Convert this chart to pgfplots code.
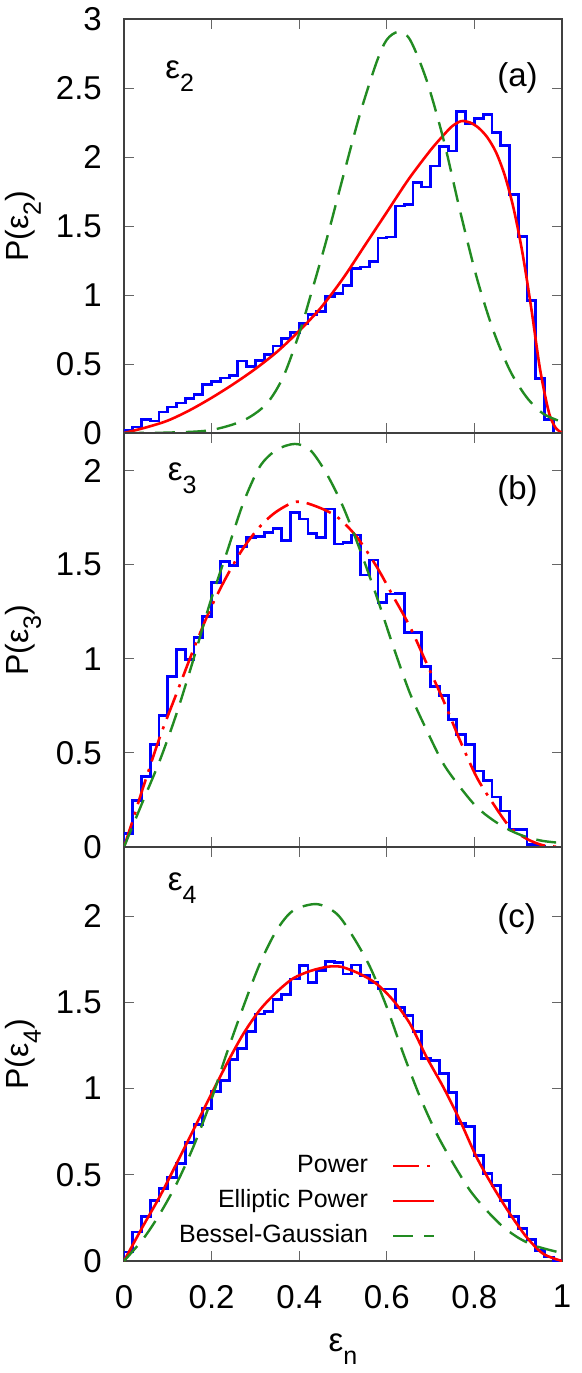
\documentclass[border=0pt]{standalone}
\usepackage{fontspec}
\setmainfont{Liberation Sans}
\usepackage{pgfplots}
\pgfplotsset{compat=1.18}
\usepackage{pgfplotstable}

\definecolor{hblue}{RGB}{0,0,255}
\definecolor{cred}{RGB}{255,0,0}
\definecolor{cgreen}{RGB}{34,139,34}

\pgfplotstableread{
x y
0.00 0.000
0.00 0.020
0.02 0.043
0.04 0.097
0.06 0.087
0.08 0.152
0.10 0.188
0.12 0.217
0.14 0.249
0.16 0.278
0.18 0.350
0.20 0.374
0.22 0.399
0.24 0.418
0.26 0.522
0.28 0.483
0.30 0.527
0.32 0.568
0.34 0.630
0.36 0.684
0.38 0.727
0.40 0.792
0.42 0.857
0.44 0.882
0.46 0.990
0.48 1.010
0.50 1.070
0.52 1.191
0.54 1.203
0.56 1.244
0.58 1.413
0.60 1.420
0.62 1.645
0.64 1.657
0.66 1.814
0.68 1.783
0.70 1.935
0.72 2.077
0.74 2.043
0.76 2.331
0.78 2.242
0.80 2.278
0.82 2.307
0.84 2.176
0.86 2.085
0.88 1.727
0.90 1.425
0.92 0.961
0.94 0.394
0.96 0.097
0.98 0.000
1.00 0.000
}\histA

\pgfplotstableread{
x y
0.00 0.000
0.00 0.071
0.02 0.248
0.04 0.376
0.06 0.546
0.08 0.700
0.10 0.904
0.12 1.051
0.14 0.998
0.16 1.113
0.18 1.223
0.20 1.406
0.22 1.516
0.24 1.495
0.26 1.596
0.28 1.645
0.30 1.652
0.32 1.672
0.34 1.693
0.36 1.628
0.38 1.777
0.40 1.743
0.42 1.667
0.44 1.645
0.46 1.796
0.48 1.610
0.50 1.619
0.52 1.658
0.54 1.445
0.56 1.525
0.58 1.300
0.60 1.344
0.62 1.348
0.64 1.138
0.66 1.138
0.68 0.961
0.70 0.851
0.72 0.807
0.74 0.679
0.76 0.599
0.78 0.546
0.80 0.404
0.82 0.355
0.84 0.266
0.86 0.191
0.88 0.092
0.90 0.092
0.92 0.014
0.94 0.004
0.96 0.000
0.98 0.000
1.00 0.000
}\histB

\pgfplotstableread{
x y
0.00 0.000
0.00 0.052
0.02 0.168
0.04 0.259
0.06 0.351
0.08 0.419
0.10 0.486
0.12 0.564
0.14 0.689
0.16 0.790
0.18 0.886
0.20 0.985
0.22 1.046
0.24 1.166
0.26 1.230
0.28 1.330
0.30 1.432
0.32 1.448
0.34 1.514
0.36 1.544
0.38 1.635
0.40 1.712
0.42 1.616
0.44 1.683
0.46 1.737
0.48 1.732
0.50 1.664
0.52 1.716
0.54 1.654
0.56 1.616
0.58 1.577
0.60 1.577
0.62 1.471
0.64 1.423
0.66 1.330
0.68 1.172
0.70 1.162
0.72 1.085
0.74 0.979
0.76 0.795
0.78 0.780
0.80 0.612
0.82 0.506
0.84 0.438
0.86 0.351
0.88 0.259
0.90 0.187
0.92 0.124
0.94 0.062
0.96 0.023
0.98 0.004
1.00 0.004
}\histC

\newcommand{\lab}{\fontsize{33}{40}\selectfont}
\newcommand{\sub}[1]{\raisebox{-0.4em}{\fontsize{25}{30}\selectfont #1}}

\pgfplotsset{
  panel/.style={
    width=438pt, height=414pt, scale only axis,
    xmin=0, xmax=1, ymin=0,
    xtick={0,0.2,0.4,0.6,0.8,1},
    tick align=inside, major tick length=10pt,
    axis line style={draw=black!75, line width=1.2pt},
    tick style={draw=black!60, line width=1pt},
    ticklabel style={font=\fontsize{33}{40}\selectfont},
    /pgf/number format/assume math mode=true,
    yticklabel style={inner sep=0pt, xshift=-22pt},
    xticklabel style={inner sep=0pt, yshift=-24pt},
    ylabel style={at={(axis description cs:-0.2306,0.5)}, anchor=center, font=\fontsize{32}{38}\selectfont},
    clip=true,
  },
  hist/.style={hblue, line width=2.8pt, const plot, no marks, line join=miter},
  ell/.style={cred, line width=2.6pt, no marks, smooth},
  pow/.style={cred, line width=2.6pt, no marks, dash pattern=on 26pt off 8pt on 3pt off 8pt},
  bg/.style={cgreen, line width=2.4pt, no marks, smooth, dash pattern=on 20pt off 11pt},
}

\begin{document}
\begin{tikzpicture}
% ---------------- panel (a)
\begin{axis}[panel, at={(0pt,0pt)}, anchor=north west,
  ymax=3, ytick={0,0.5,1,1.5,2,2.5,3}, xticklabels={},
  ylabel={P(ε\sub{2})}]
\addplot[hist] table {\histA};
\addplot[ell] coordinates {(0,0) (0.05,0.04) (0.1,0.09) (0.15,0.165) (0.2,0.255) (0.25,0.355) (0.3,0.465) (0.35,0.59) (0.4,0.74) (0.45,0.91) (0.5,1.12) (0.55,1.36) (0.6,1.6) (0.65,1.84) (0.7,2.05) (0.73,2.16) (0.75,2.225) (0.77,2.26) (0.79,2.25) (0.81,2.21) (0.83,2.14) (0.85,2.03) (0.87,1.86) (0.89,1.62) (0.91,1.3) (0.93,0.9) (0.95,0.46) (0.97,0.15) (0.985,0.04) (1.0,0)};
\addplot[bg] coordinates {(0,0) (0.1,0.003) (0.196,0.02) (0.272,0.09) (0.325,0.21) (0.364,0.41) (0.402,0.74) (0.425,0.985) (0.462,1.396) (0.5,1.855) (0.539,2.314) (0.577,2.69) (0.6,2.85) (0.626,2.906) (0.653,2.85) (0.691,2.555) (0.73,2.12) (0.767,1.613) (0.805,1.13) (0.843,0.744) (0.881,0.454) (0.919,0.26) (0.957,0.14) (1.0,0.08)};
\node[anchor=base west, inner sep=0pt, font=\lab] at (axis cs:0.094,2.572) {ε\sub{2}};
\node[anchor=base west, inner sep=0pt, font=\lab] at (axis cs:0.852,2.514) {(a)};
\end{axis}
% ---------------- panel (b)
\begin{axis}[panel, at={(0pt,-414pt)}, anchor=north west,
  ymax=2.2, ytick={0,0.5,1,1.5,2}, xticklabels={},
  ylabel={P(ε\sub{3})}]
\addplot[hist] table {\histB};
\addplot[pow, smooth] coordinates {(0,0) (0.02,0.142) (0.044,0.319) (0.082,0.585) (0.12,0.816) (0.158,1.046) (0.196,1.259) (0.234,1.436) (0.272,1.587) (0.31,1.702) (0.348,1.782) (0.394,1.835) (0.44,1.809) (0.486,1.755) (0.531,1.649) (0.577,1.489) (0.615,1.33) (0.653,1.17) (0.691,0.975) (0.729,0.78) (0.767,0.567) (0.805,0.372) (0.843,0.23) (0.881,0.106) (0.919,0.044) (0.957,0.009) (1.0,0)};
\addplot[bg] coordinates {(0,0) (0.044,0.248) (0.082,0.461) (0.12,0.709) (0.158,0.993) (0.196,1.294) (0.234,1.56) (0.272,1.826) (0.31,2.021) (0.348,2.11) (0.39,2.142) (0.425,2.11) (0.462,1.986) (0.5,1.809) (0.539,1.578) (0.577,1.33) (0.615,1.064) (0.653,0.816) (0.691,0.621) (0.729,0.443) (0.767,0.319) (0.805,0.213) (0.843,0.142) (0.881,0.089) (0.919,0.053) (0.957,0.032) (1.0,0.021)};
\node[anchor=base west, inner sep=0pt, font=\lab] at (axis cs:0.1,1.95) {ε\sub{3}};
\node[anchor=base west, inner sep=0pt, font=\lab] at (axis cs:0.852,1.844) {(b)};
\end{axis}
% ---------------- panel (c)
\begin{axis}[panel, at={(0pt,-828pt)}, anchor=north west,
  ymax=2.4, ytick={0,0.5,1,1.5,2},
  ylabel={P(ε\sub{4})},
  xlabel={ε\sub{n}},
  xlabel style={at={(axis description cs:0.5,0)}, anchor=base, yshift=-90pt, font=\lab},
  legend plot pos=right,
  legend cell align=right,
  legend image code/.code={\draw[#1] (0pt,0pt) -- (41pt,0pt);},
  legend style={at={(0.712,0.272)}, anchor=north east, draw=none, fill=none,
    inner sep=0pt, font=\fontsize{25}{30}\selectfont,
    nodes={text height=20pt, text depth=7pt, inner sep=4pt},
    /tikz/every odd column/.style={column sep=20pt}},
]
\addplot[hist, forget plot] table {\histC};
\addlegendimage{pow}
\addlegendentry{Power}
\addplot[ell] coordinates {(0,0) (0.044,0.205) (0.082,0.375) (0.12,0.565) (0.158,0.757) (0.196,0.95) (0.234,1.14) (0.272,1.315) (0.31,1.455) (0.348,1.558) (0.386,1.638) (0.425,1.681) (0.462,1.705) (0.481,1.708) (0.5,1.703) (0.539,1.664) (0.577,1.606) (0.615,1.51) (0.653,1.375) (0.691,1.181) (0.729,1.008) (0.767,0.815) (0.805,0.602) (0.843,0.429) (0.881,0.274) (0.919,0.139) (0.957,0.042) (1.0,0)};
\addlegendentry{Elliptic Power}
\addplot[bg] coordinates {(0,0) (0.044,0.129) (0.082,0.274) (0.12,0.448) (0.158,0.66) (0.196,0.911) (0.234,1.2) (0.272,1.471) (0.31,1.722) (0.348,1.915) (0.386,2.031) (0.44,2.069) (0.486,2.012) (0.524,1.876) (0.562,1.703) (0.6,1.471) (0.638,1.2) (0.676,0.95) (0.714,0.737) (0.752,0.564) (0.79,0.409) (0.828,0.293) (0.866,0.197) (0.904,0.129) (0.942,0.085) (1.0,0.046)};
\addlegendentry{Bessel-Gaussian}
\node[anchor=base west, inner sep=0pt, font=\lab] at (axis cs:0.1,2.147) {ε\sub{4}};
\node[anchor=base west, inner sep=0pt, font=\lab] at (axis cs:0.852,1.932) {(c)};
\end{axis}
\pgfresetboundingbox
\path (-124pt,19pt) rectangle (457pt,-1354pt);
\end{tikzpicture}
\end{document}
